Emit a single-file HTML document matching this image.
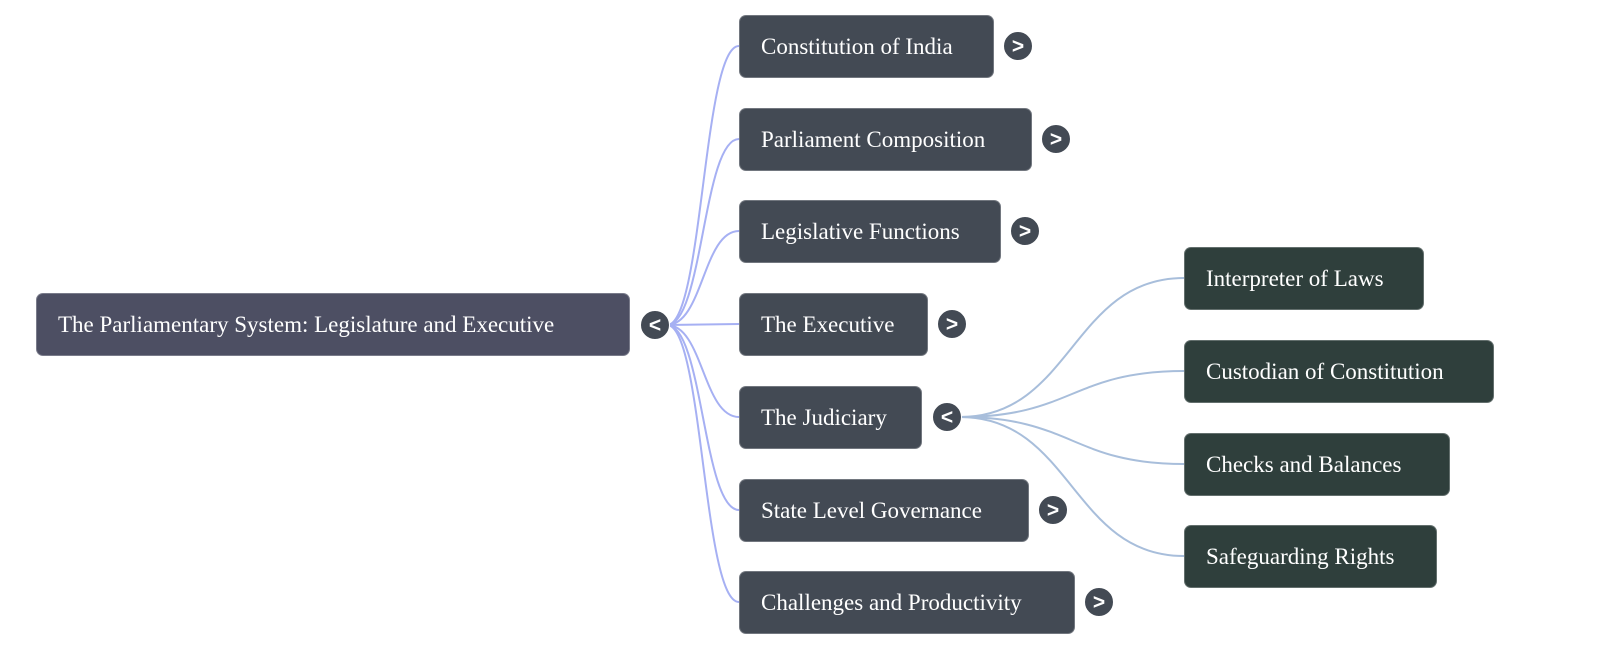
<!DOCTYPE html>
<html><head><style>
body{margin:0;width:1600px;height:663px;background:#fff;position:relative;overflow:hidden;font-family:"Liberation Serif",serif;}
.b{position:absolute;height:63px;border-radius:7px;color:#fff;font-size:23px;line-height:61px;padding-left:21px;box-sizing:border-box;border:1px solid rgba(255,255,255,0.25);white-space:nowrap;}
.r{background:#4d4f63}.c{background:#434a54}.g{background:#2f3f3c}
.t{position:absolute;width:28px;height:28px;border-radius:50%;background:#434a54;color:#fff;font-family:"Liberation Sans",sans-serif;font-size:21px;font-weight:bold;line-height:29px;text-align:center;border:1px solid #fff;box-sizing:content-box;}
svg{position:absolute;left:0;top:0}
</style></head><body>
<svg width="1600" height="663" fill="none" stroke-width="2">
<g stroke="#a6b0f3">
<path d="M667 325 C703 325 703 46 739 46"/>
<path d="M667 325 C703 325 703 139 739 139"/>
<path d="M667 325 C703 325 703 231 739 231"/>
<path d="M667 325 L739 324"/>
<path d="M667 325 C703 325 703 417 739 417"/>
<path d="M667 325 C703 325 703 510 739 510"/>
<path d="M667 325 C703 325 703 602 739 602"/>
</g>
<g stroke="#a8bedb">
<path d="M960 417 C1072 417 1072 278 1184 278"/>
<path d="M960 417 C1072 417 1072 371 1184 371"/>
<path d="M960 417 C1072 417 1072 464 1184 464"/>
<path d="M960 417 C1072 417 1072 556 1184 556"/>
</g>
</svg>
<div class="b r" style="left:36px;top:293px;width:594px">The Parliamentary System: Legislature and Executive</div>
<div class="t" style="left:640px;top:310px">&lt;</div>
<div class="b c" style="left:739px;top:15px;width:255px">Constitution of India</div><div class="t" style="left:1003px;top:31px">&gt;</div>
<div class="b c" style="left:739px;top:108px;width:293px">Parliament Composition</div><div class="t" style="left:1041px;top:124px">&gt;</div>
<div class="b c" style="left:739px;top:200px;width:262px">Legislative Functions</div><div class="t" style="left:1010px;top:216px">&gt;</div>
<div class="b c" style="left:739px;top:293px;width:189px">The Executive</div><div class="t" style="left:937px;top:309px">&gt;</div>
<div class="b c" style="left:739px;top:386px;width:183px">The Judiciary</div><div class="t" style="left:932px;top:402px">&lt;</div>
<div class="b c" style="left:739px;top:479px;width:290px">State Level Governance</div><div class="t" style="left:1038px;top:495px">&gt;</div>
<div class="b c" style="left:739px;top:571px;width:336px">Challenges and Productivity</div><div class="t" style="left:1084px;top:587px">&gt;</div>
<div class="b g" style="left:1184px;top:247px;width:240px">Interpreter of Laws</div>
<div class="b g" style="left:1184px;top:340px;width:310px">Custodian of Constitution</div>
<div class="b g" style="left:1184px;top:433px;width:266px">Checks and Balances</div>
<div class="b g" style="left:1184px;top:525px;width:253px">Safeguarding Rights</div>
</body></html>
